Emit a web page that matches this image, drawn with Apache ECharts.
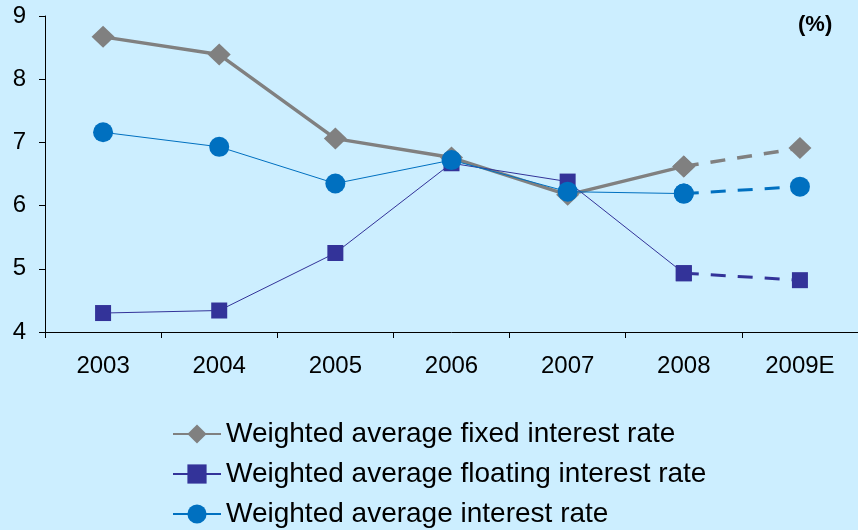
<!DOCTYPE html>
<html><head><meta charset="utf-8">
<script src="https://cdn.jsdelivr.net/npm/echarts@6/dist/echarts.min.js"></script>
<style>html,body{margin:0;padding:0;background:#CCEEFF}#c{width:858px;height:530px}</style>
</head><body><div id="c"></div>
<script>
const categories = ['2003','2004','2005','2006','2007','2008','2009E'];
const fixedRate = [8.67, 8.39, 7.06, 6.76, 6.17, 6.62, 6.91];
const floatingRate = [4.30, 4.34, 5.25, 6.67, 6.38, 4.93, 4.82];
const averageRate = [7.16, 6.93, 6.35, 6.72, 6.22, 6.19, 6.30];
const yTicks = [4, 5, 6, 7, 8, 9];
const names = ['Weighted average fixed interest rate','Weighted average floating interest rate','Weighted average interest rate'];

const actualEnd = 5; // index of 2008 (last actual year)
function solid(arr){ return arr.map((v,i)=> i<=actualEnd ? v : null); }
function dashed(arr){ return arr.map((v,i)=> i>=actualEnd ? v : null); }

const styles = [
  {color:'#808080', width:3.5, symbol:'diamond', size:[23,22], dashW:3.5},
  {color:'#333399', width:1, symbol:'rect', size:[16,16], dashW:3},
  {color:'#0070C0', width:1, symbol:'circle', size:[20,20], dashW:3}
];
const data = [fixedRate, floatingRate, averageRate];

const series = [];
data.forEach((arr,k)=>{
  const s = styles[k];
  series.push({
    name:names[k], type:'line', data:solid(arr), symbol:s.symbol, symbolSize:s.size,
    showAllSymbol:true, connectNulls:false,
    lineStyle:{color:s.color,width:s.width}, itemStyle:{color:s.color}, z:2+k
  });
  series.push({
    name:names[k]+' (E)', type:'line', data:dashed(arr), symbol:s.symbol, symbolSize:s.size,
    showSymbol:true, connectNulls:false,
    lineStyle:{color:s.color,width:s.dashW,type:[15,12]}, itemStyle:{color:s.color}, z:2+k
  });
});

const legendFont = {color:'#000', fontSize:28, lineHeight:30, fontFamily:'Liberation Sans, Arial'};
const legends = names.map((n,i)=>({
  orient:'horizontal', left:167, top:414 + i*40, data:[n], itemWidth:48, itemHeight:24,
  itemGap:0, textStyle:legendFont, selectedMode:false
}));

const chart = echarts.init(document.getElementById('c'));
chart.setOption({
  backgroundColor:'#CCEEFF',
  animation:false,
  grid:{left:45, top:16, width:819, height:316, containLabel:false},
  xAxis:{type:'category', data:categories, boundaryGap:true,
    axisLine:{lineStyle:{color:'#000',width:1}},
    axisTick:{show:true, alignWithLabel:false, length:6, lineStyle:{color:'#000'}},
    axisLabel:{color:'#000', fontSize:24, fontFamily:'Liberation Sans, Arial', margin:22}},
  yAxis:{type:'value', min:yTicks[0], max:yTicks[yTicks.length-1], interval:1,
    splitLine:{show:false},
    axisLine:{show:true, lineStyle:{color:'#000',width:1}},
    axisTick:{show:true, length:6, lineStyle:{color:'#000'}},
    axisLabel:{color:'#000', fontSize:24, fontFamily:'Liberation Sans, Arial', margin:19}},
  legend:legends,
  graphic:[{type:'text', left:798, top:14, style:{text:'(%)', font:'bold 22px Liberation Sans, Arial', fill:'#000'}}],
  series:series
});
</script></body></html>
